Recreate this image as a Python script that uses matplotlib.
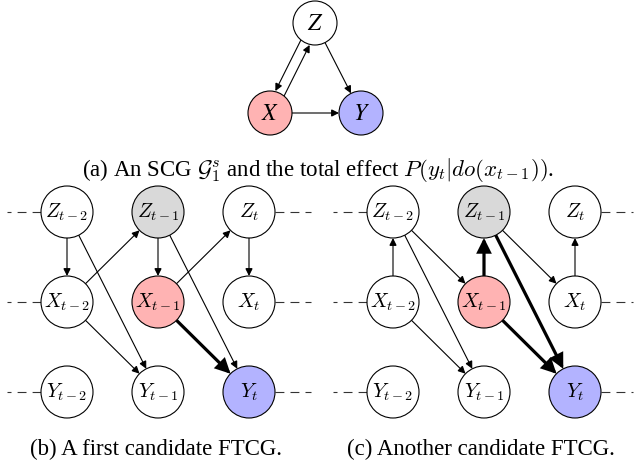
import numpy as np
import matplotlib
matplotlib.use("Agg")
import matplotlib.pyplot as plt
from matplotlib.patches import Circle, FancyArrowPatch

# ---- graph data -------------------------------------------------------------
# summary causal graph (a)
scg_nodes = ["Z", "X", "Y"]
scg_labels = {"Z": r"$Z$", "X": r"$X$", "Y": r"$Y$"}
scg_edges = [("Z", "X"), ("X", "Z"), ("Z", "Y"), ("X", "Y")]

# full time causal graphs (b) and (c); node id = variable + lag (2: t-2, 1: t-1, 0: t)
vars_ = ["Z", "X", "Y"]
lags = ["t-2", "t-1", "t"]
edges_b = [("Z2", "X2", 1), ("Z2", "Y1", 1), ("X2", "Z1", 1), ("X2", "Y1", 1),
           ("Z1", "X1", 1), ("Z1", "Y0", 1), ("X1", "Z0", 1), ("X1", "Y0", 2),
           ("Z0", "X0", 1)]
edges_c = [("X2", "Z2", 1), ("Z2", "X1", 1), ("Z2", "Y1", 1), ("X2", "Y1", 1),
           ("X1", "Z1", 2), ("Z1", "Y0", 2), ("Z1", "X0", 1), ("X1", "Y0", 2),
           ("X0", "Z0", 1)]

captions = [r"(a) An SCG $\mathcal{G}_1^s$ and the total effect $P(y_t|do(x_{t-1}))$.",
            "(b) A first candidate FTCG.",
            "(c) Another candidate FTCG."]

fills = {"X": "#ffb3b3", "Y": "#b3b3ff", "Z": "#d9d9d9"}

# ---- layout (pixels) ---------------------------------------------------------
W, H = 635, 468
fig = plt.figure(figsize=(W / 100, H / 100), dpi=100)
ax = fig.add_axes([0, 0, 1, 1])
ax.set_xlim(0, W)
ax.set_ylim(H, 0)
ax.axis("off")


def node(x, y, r, label, fc, fs, mf="cm"):
    ax.add_patch(Circle((x, y), r, fc=fc, ec="black", lw=0.8, zorder=3))
    ax.text(x, y, label, ha="center", va="center", fontsize=fs,
            math_fontfamily=mf, zorder=4)


def arrow(p, q, r, lw=0.8, off=0.0):
    p, q = np.array(p, float), np.array(q, float)
    u = (q - p) / np.linalg.norm(q - p)
    n = np.array([-u[1], u[0]]) * off
    a = p + u * r + n
    b = q - u * r + n
    ms = 11 if lw < 1.5 else 19
    ax.add_patch(FancyArrowPatch(a, b, arrowstyle="-|>", mutation_scale=ms,
                                 lw=lw, color="black", shrinkA=0, shrinkB=0,
                                 joinstyle="miter", zorder=2))


# (a)
pos_a = {"Z": (315, 23), "X": (270, 113), "Y": (361, 113)}
ra = 22
for s, t in scg_edges:
    off = 5 if {s, t} == {"Z", "X"} else 0
    arrow(pos_a[s], pos_a[t], ra, off=off)
for k in scg_nodes:
    node(*pos_a[k], ra, scg_labels[k], fills[k] if k != "Z" else "white", 17,
         mf="stix")
ax.text(318, 176, captions[0], ha="center", va="baseline", fontsize=16.5,
        family="Liberation Serif", math_fontfamily="cm")


def ftcg(x0, xend_l, xend_r, edges, label_x, caption):
    cols = {"2": x0, "1": x0 + 91, "0": x0 + 182}
    rows = {"Z": 212, "X": 302, "Y": 392}
    r = 26
    pos = {v + c: (cols[c], rows[v]) for v in vars_ for c in cols}
    for v in vars_:
        y = rows[v]
        ax.plot([cols["2"] - r, xend_l], [y, y], color="#333333", lw=0.8,
                ls=(0, (8, 5.5)), zorder=1)
        ax.plot([cols["0"] + r, xend_r], [y, y], color="#333333", lw=0.8,
                ls=(0, (8, 5.5)), zorder=1)
    for s, t, w in edges:
        arrow(pos[s], pos[t], r, lw=0.8 if w == 1 else 2.3)
    for v in vars_:
        for c, lag in zip(["2", "1", "0"], lags):
            fc = "white"
            if c == "1" and v in ("X", "Z"):
                fc = fills[v]
            if c == "0" and v == "Y":
                fc = fills["Y"]
            node(*pos[v + c], r, rf"${v}_{{{lag}}}$", fc, 14.5)
    ax.text(label_x, 455, caption, ha="center", va="baseline", fontsize=16.5,
            family="Liberation Serif")


ftcg(67, 7, 311, edges_b, 156, captions[1])
ftcg(393, 333, 633, edges_c, 481, captions[2])

fig.savefig("out.png", dpi=100)
